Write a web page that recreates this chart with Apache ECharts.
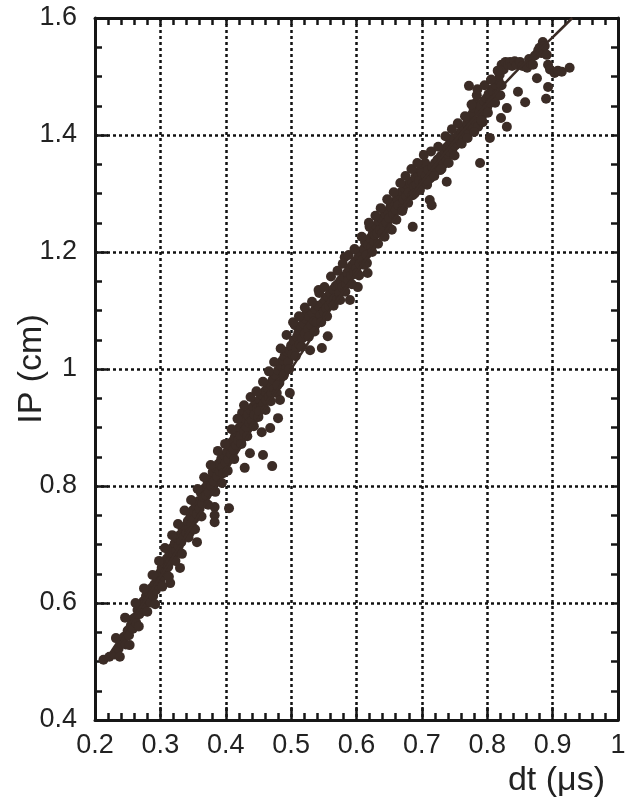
<!DOCTYPE html>
<html>
<head>
<meta charset="utf-8">
<script src="https://cdn.jsdelivr.net/npm/echarts@6/dist/echarts.min.js"></script>
<style>
  html, body { margin: 0; padding: 0; background: #ffffff; }
  #chart { width: 631px; height: 806px; }
</style>
</head>
<body>
<div id="chart"></div>
<script>
// axis ranges and tick labels
const dtTicks = [0.2, 0.3, 0.4, 0.5, 0.6, 0.7, 0.8, 0.9, 1];
const ipTicks = [0.4, 0.6, 0.8, 1, 1.2, 1.4, 1.6];

// measured points [dt (us), IP (cm)]
const lowPoints = [
  [0.213,0.503],[0.222,0.508],[0.230,0.512],[0.236,0.522],[0.240,0.531],[0.244,0.542],[0.247,0.529],
  [0.250,0.553],[0.252,0.545],[0.255,0.562],[0.257,0.572],[0.258,0.556],[0.261,0.575],[0.263,0.566],
  [0.265,0.588],[0.268,0.581],[0.269,0.596],[0.272,0.590],[0.274,0.603],[0.276,0.598],[0.278,0.612],
  [0.281,0.606],[0.283,0.617],[0.285,0.601],[0.287,0.626],[0.289,0.612],[0.291,0.632],[0.293,0.622],
  [0.295,0.641],[0.297,0.630],[0.299,0.651],[0.300,0.637],
  [0.302,0.660],[0.304,0.646],[0.306,0.668],[0.308,0.653],[0.310,0.676],[0.312,0.662],[0.314,0.685],
  [0.315,0.634],[0.316,0.672],[0.318,0.694],[0.320,0.681],[0.322,0.702],[0.324,0.689],[0.326,0.711],
  [0.328,0.697],[0.330,0.660],[0.330,0.716],[0.332,0.704],[0.334,0.725],[0.336,0.713],[0.338,0.731],
  [0.340,0.719],[0.342,0.740],[0.344,0.727],[0.345,0.720],[0.346,0.748],[0.348,0.735],[0.350,0.759],
  [0.352,0.744],[0.354,0.766],[0.356,0.704],[0.356,0.752],[0.358,0.774],[0.360,0.761],[0.362,0.788],
  [0.364,0.770],[0.366,0.781],[0.368,0.796],[0.370,0.784],[0.372,0.803],[0.374,0.790],[0.376,0.812],
  [0.378,0.800],[0.380,0.824],[0.382,0.808],[0.383,0.764],[0.383,0.750],[0.383,0.738],[0.385,0.830],
  [0.387,0.816],[0.389,0.838],[0.391,0.825],[0.393,0.846],[0.395,0.832],[0.396,0.822],[0.398,0.852],
  [0.400,0.840]
];

const midPoints = [
  [0.402,0.858],[0.404,0.846],[0.405,0.762],[0.406,0.870],[0.408,0.855],[0.410,0.876],[0.412,0.862],
  [0.414,0.884],[0.416,0.870],[0.417,0.892],[0.419,0.878],[0.421,0.900],[0.423,0.886],[0.425,0.925],
  [0.426,0.908],[0.428,0.893],[0.429,0.831],[0.430,0.915],[0.432,0.900],[0.434,0.922],[0.436,0.908],
  [0.437,0.856],[0.438,0.930],[0.440,0.912],[0.442,0.936],[0.444,0.922],[0.446,0.943],[0.448,0.933],
  [0.450,0.918],[0.452,0.948],[0.454,0.934],[0.455,0.892],[0.457,0.853],[0.456,0.955],[0.458,0.940],
  [0.460,0.962],[0.462,0.947],[0.464,0.968],[0.466,0.952],[0.468,0.899],[0.468,0.975],[0.470,0.958],
  [0.471,0.834],[0.472,0.982],[0.474,0.966],[0.476,0.990],[0.478,0.959],[0.480,0.916],[0.480,0.998],
  [0.482,0.976],[0.483,0.947],[0.485,1.005],[0.487,1.015],[0.488,0.988],[0.490,1.022],[0.492,1.000],
  [0.494,1.030],[0.496,1.012],[0.498,1.032],[0.498,0.959],[0.500,1.040],
  [0.502,1.025],[0.504,1.048],[0.506,1.075],[0.508,1.035],[0.509,1.055],[0.511,1.062],[0.513,1.042],
  [0.515,1.070],[0.517,1.052],[0.519,1.078],[0.521,1.060],[0.523,1.085],[0.524,1.097],[0.526,1.068],
  [0.528,1.090],[0.529,1.032],[0.531,1.075],[0.533,1.096],[0.535,1.082],[0.537,1.102],[0.539,1.080],
  [0.541,1.108],[0.543,1.130],[0.545,1.092],[0.547,1.036],[0.548,1.112],[0.550,1.098],[0.552,1.118],
  [0.554,1.104],[0.556,1.056],[0.556,1.124],[0.558,1.108],[0.560,1.130],[0.562,1.114],[0.564,1.136],
  [0.566,1.120],[0.568,1.142],[0.570,1.118],[0.572,1.146],[0.574,1.130],[0.576,1.152],[0.578,1.140],
  [0.580,1.158],[0.582,1.191],[0.584,1.145],[0.586,1.165],[0.587,1.152],[0.589,1.172],[0.590,1.118],
  [0.592,1.160],[0.594,1.178],[0.596,1.166],[0.598,1.184],[0.600,1.172]
];

const highPoints = [
  [0.601,1.164],[0.602,1.140],[0.603,1.192],[0.605,1.180],[0.607,1.198],[0.609,1.186],[0.611,1.205],
  [0.613,1.217],[0.615,1.195],[0.616,1.181],[0.617,1.164],[0.618,1.212],[0.620,1.243],[0.621,1.224],
  [0.623,1.208],[0.625,1.232],[0.627,1.218],[0.628,1.229],[0.630,1.245],[0.632,1.232],[0.634,1.252],
  [0.636,1.238],[0.638,1.258],[0.639,1.232],[0.640,1.255],[0.642,1.245],[0.644,1.265],[0.646,1.250],
  [0.648,1.270],[0.650,1.258],[0.652,1.278],[0.654,1.275],[0.654,1.238],[0.656,1.265],[0.658,1.285],
  [0.660,1.272],[0.662,1.292],[0.664,1.280],[0.666,1.298],[0.669,1.303],[0.671,1.275],[0.672,1.290],
  [0.674,1.308],[0.676,1.296],[0.678,1.314],[0.680,1.302],[0.682,1.318],[0.685,1.320],[0.686,1.297],
  [0.686,1.243],[0.688,1.312],[0.690,1.328],[0.692,1.315],[0.694,1.334],[0.696,1.322],[0.698,1.340],
  [0.700,1.335],
  [0.702,1.318],[0.705,1.352],[0.706,1.330],[0.708,1.315],[0.710,1.340],[0.712,1.289],[0.713,1.326],
  [0.715,1.280],[0.716,1.345],[0.718,1.333],[0.720,1.352],[0.722,1.340],[0.724,1.358],[0.726,1.346],
  [0.728,1.340],[0.729,1.364],[0.731,1.361],[0.733,1.350],[0.735,1.372],[0.737,1.358],[0.738,1.379],
  [0.738,1.320],[0.740,1.366],[0.742,1.384],[0.743,1.371],[0.745,1.390],[0.747,1.377],[0.749,1.394],
  [0.751,1.382],[0.754,1.386],[0.756,1.400],[0.758,1.390],[0.760,1.406],[0.763,1.397],[0.765,1.412],
  [0.767,1.402],[0.769,1.420],[0.771,1.408],[0.772,1.484],[0.773,1.428],[0.775,1.415],[0.777,1.436],
  [0.778,1.412],[0.779,1.446],[0.781,1.424],[0.783,1.455],[0.784,1.468],[0.786,1.414],[0.788,1.440],
  [0.789,1.352],[0.790,1.450],[0.792,1.432],[0.793,1.422],[0.795,1.458],[0.797,1.440],[0.799,1.463],
  [0.800,1.448],
  [0.802,1.470],[0.804,1.395],[0.805,1.455],[0.807,1.478],[0.809,1.474],[0.811,1.462],[0.813,1.486],
  [0.815,1.470],[0.817,1.494],[0.819,1.503],[0.821,1.429],[0.822,1.485],[0.822,1.520],[0.825,1.512],
  [0.828,1.525],[0.830,1.414],[0.830,1.446],[0.832,1.520],[0.835,1.525],[0.838,1.518],[0.842,1.526],
  [0.845,1.520],[0.847,1.474],[0.850,1.525],[0.854,1.518],[0.858,1.456],[0.861,1.515],[0.864,1.530],
  [0.867,1.522],[0.870,1.520],[0.873,1.536],[0.876,1.497],[0.878,1.545],[0.880,1.549],[0.883,1.540],
  [0.885,1.559],[0.888,1.552],[0.890,1.462],[0.891,1.537],[0.893,1.482],[0.893,1.520],[0.896,1.512],
  [0.903,1.506],[0.908,1.510],[0.914,1.508],[0.926,1.515]
];

// points on the upper and lower edge of the band
const edgePoints = [
  [0.232,0.540],[0.238,0.508],[0.246,0.575],[0.253,0.528],[0.262,0.600],[0.267,0.560],[0.275,0.625],
  [0.280,0.585],[0.288,0.648],[0.292,0.598],[0.298,0.672],[0.303,0.628],[0.307,0.694],[0.313,0.645],
  [0.318,0.716],[0.323,0.672],[0.327,0.735],[0.333,0.684],[0.337,0.758],[0.343,0.712],[0.347,0.776],
  [0.353,0.726],[0.357,0.795],[0.363,0.748],[0.367,0.815],[0.373,0.768],[0.377,0.836],[0.384,0.790],
  [0.388,0.860],[0.394,0.805],[0.399,0.872],[0.403,0.826],[0.409,0.897],[0.413,0.846],[0.418,0.915],
  [0.424,0.872],[0.428,0.938],[0.433,0.885],[0.438,0.952],[0.443,0.902],[0.447,0.962],[0.451,0.928],
  [0.457,0.978],[0.461,0.930],[0.466,0.996],[0.469,0.945],[0.474,1.012],[0.479,0.972],[0.484,1.035],
  [0.489,0.990],[0.493,1.058],[0.497,1.000],[0.503,1.080],[0.507,1.022],[0.512,1.090],[0.516,1.038],
  [0.521,1.105],[0.527,1.055],[0.532,1.115],[0.536,1.064],[0.542,1.135],[0.546,1.080],[0.551,1.140],
  [0.555,1.090],[0.561,1.158],[0.565,1.108],[0.571,1.168],[0.575,1.118],[0.579,1.180],[0.583,1.132],
  [0.588,1.195],[0.593,1.145],[0.597,1.205],[0.604,1.160],[0.608,1.226],[0.612,1.178],[0.619,1.250],
  [0.624,1.200],[0.629,1.262],[0.633,1.214],[0.637,1.275],[0.643,1.226],[0.647,1.290],[0.651,1.240],
  [0.657,1.302],[0.661,1.255],[0.667,1.318],[0.670,1.270],[0.675,1.330],[0.679,1.284],[0.684,1.342],
  [0.689,1.300],[0.693,1.352],[0.697,1.306],[0.703,1.366],[0.709,1.322],[0.714,1.372],[0.719,1.330],
  [0.725,1.380],[0.730,1.342],[0.736,1.398],[0.741,1.352],[0.746,1.410],[0.750,1.365],[0.755,1.420],
  [0.761,1.385],[0.766,1.432],[0.770,1.395],[0.776,1.452],[0.780,1.405],[0.785,1.478],[0.791,1.425],
  [0.796,1.485],[0.801,1.438],[0.806,1.495],[0.812,1.455],[0.816,1.510],[0.820,1.468]
];

// fitted curve
const fitDt = [0.215, 0.25, 0.3, 0.35, 0.4, 0.45, 0.5, 0.55, 0.6, 0.65, 0.7, 0.75, 0.8, 0.85, 0.9, 0.93];
const fitIp = [0.50, 0.56, 0.645, 0.735, 0.825, 0.915, 1.0, 1.085, 1.165, 1.245, 1.32, 1.39, 1.455, 1.515, 1.567, 1.6];

const ink = "#3b2c26";
const axisInk = "#161616";
const font = "Liberation Sans";

function axisParts(splits) {
    return {
        axisLine: { show: true, lineStyle: { color: axisInk, width: 3 } },
        axisTick: { show: true, inside: true, length: 13, lineStyle: { color: axisInk, width: 2.5 } },
        minorTick: { show: true, splitNumber: splits, length: 7, lineStyle: { color: axisInk, width: 2.5 } },
    };
}
// mirror axes on top / right: every small step gets a short inward tick
function mirrorParts() {
    return {
        axisLine: { show: true, lineStyle: { color: axisInk, width: 3 } },
        axisTick: { show: true, inside: true, length: 7, lineStyle: { color: axisInk, width: 2.5 } },
        axisLabel: { show: false },
        splitLine: { show: false },
    };
}
function labels(margin) {
    return { show: true, color: "#222", fontFamily: font, fontSize: 27, margin: margin };
}
function dots() {
    return { show: true, lineStyle: { color: "#111", width: 2.5, type: [3, 3] } };
}

const option = {
    animation: false,
    backgroundColor: "#ffffff",
    grid: { left: 95, right: 13, top: 18, bottom: 86, outerBoundsMode: "none" },
    xAxis: [
        {
            type: "value", min: dtTicks[0], max: dtTicks[dtTicks.length - 1], interval: 0.1,
            position: "bottom",
            ...axisParts(5),
            axisLabel: labels(12),
            splitLine: dots(),
            name: "dt (\u03bcs)",
            nameLocation: "end",
            nameGap: -13,
            nameMoveOverlap: false,
            nameTextStyle: { color: "#222", fontFamily: font, fontSize: 34, align: "right", verticalAlign: "top", padding: [44, 0, 0, 0] },
        },
        {
            type: "value", min: dtTicks[0], max: dtTicks[dtTicks.length - 1], interval: 0.02,
            position: "top",
            ...mirrorParts(),
        },
    ],
    yAxis: [
        {
            type: "value", min: ipTicks[0], max: ipTicks[ipTicks.length - 1], interval: 0.2,
            position: "left",
            ...axisParts(4),
            axisLabel: labels(18),
            splitLine: dots(),
            name: "IP (cm)",
            nameLocation: "middle",
            nameGap: 46,
            nameMoveOverlap: false,
            nameTextStyle: { color: "#222", fontFamily: font, fontSize: 34 },
        },
        {
            type: "value", min: ipTicks[0], max: ipTicks[ipTicks.length - 1], interval: 0.05,
            position: "right",
            ...mirrorParts(),
        },
    ],
    series: [
        {
            name: "data",
            type: "scatter",
            data: lowPoints.concat(midPoints, highPoints, edgePoints),
            symbol: "circle",
            symbolSize: 10,
            progressive: 0,
            itemStyle: { color: ink, opacity: 1 },
            z: 3,
        },
        {
            name: "fit",
            type: "line",
            data: fitDt.map((d, i) => [d, fitIp[i]]),
            smooth: 0.3,
            showSymbol: false,
            lineStyle: { color: ink, width: 2.5 },
            z: 4,
        },
    ],
};

const chart = echarts.init(document.getElementById("chart"));
chart.setOption(option);
</script>
</body>
</html>
